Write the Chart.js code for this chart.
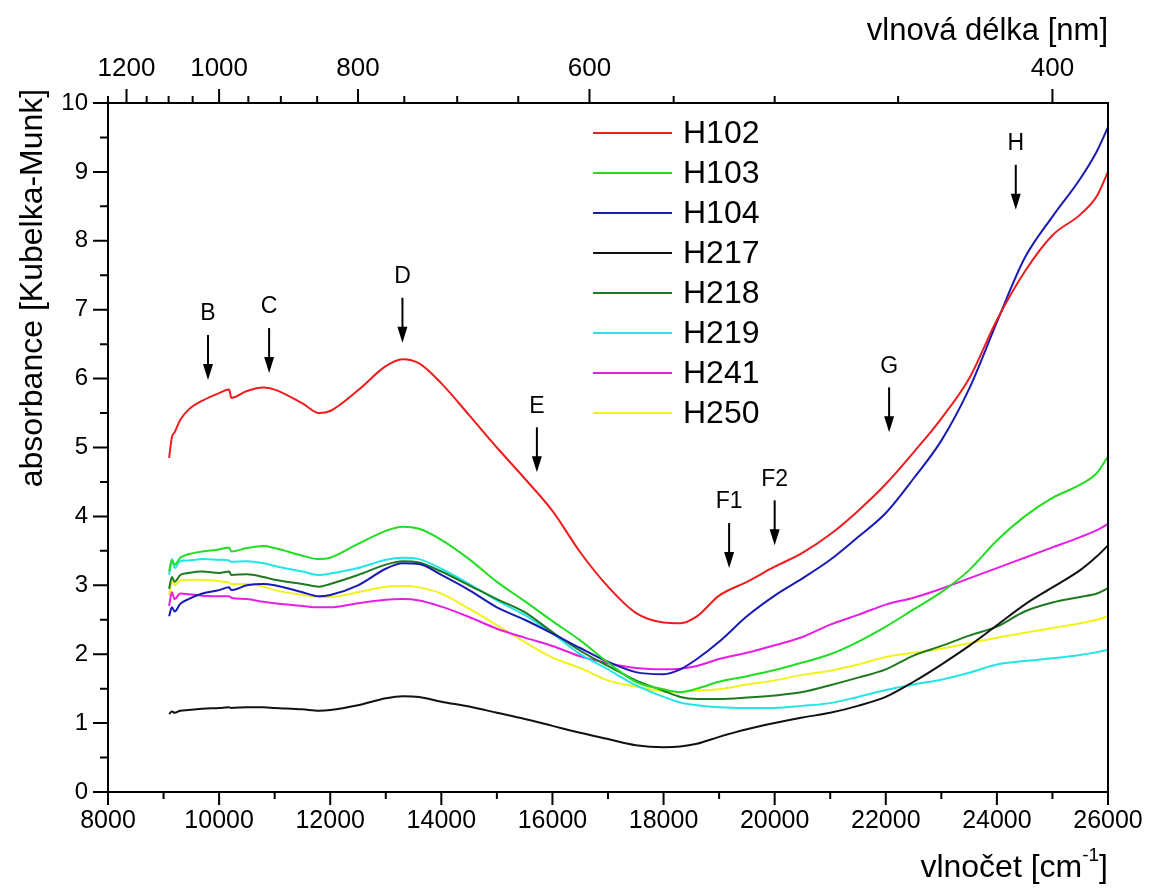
<!DOCTYPE html>
<html>
<head>
<meta charset="utf-8">
<script src="https://cdn.jsdelivr.net/npm/chart.js@4"></script>
<style>
  body { margin: 0; background: #fff; }
  #wrap { width: 1152px; height: 890px; }
</style>
</head>
<body>
<div id="wrap"><canvas id="spectra"></canvas></div>
<script>
// wavenumber grid [cm-1]
var wavenumber = [9100, 9150, 9200, 9300, 9450, 9700, 10000, 10180, 10220, 10500, 10800, 11000, 11500, 11800, 12000, 12500,
    13000, 13300, 13600, 14000, 14500, 15000, 15500, 16000, 16500, 17000, 17500, 18000, 18300, 18600, 19000, 19500,
    20000, 20500, 21000, 21500, 22000, 22500, 23000, 23500, 24000, 24500, 25000, 25500, 25800, 26000];

var h102 = [4.85, 5.15, 5.22, 5.40, 5.55, 5.68, 5.79, 5.84, 5.72, 5.82, 5.87, 5.84, 5.64, 5.50, 5.53, 5.83,
    6.18, 6.28, 6.22, 5.93, 5.47, 5.00, 4.55, 4.08, 3.48, 2.98, 2.60, 2.46, 2.45, 2.55, 2.85, 3.05,
    3.27, 3.47, 3.74, 4.08, 4.47, 4.93, 5.42, 6.00, 6.85, 7.55, 8.08, 8.38, 8.65, 9.00];
var h103 = [3.20, 3.36, 3.30, 3.40, 3.45, 3.49, 3.52, 3.55, 3.49, 3.54, 3.57, 3.54, 3.43, 3.38, 3.40, 3.60,
    3.79, 3.85, 3.82, 3.66, 3.38, 3.05, 2.77, 2.48, 2.20, 1.88, 1.60, 1.49, 1.45, 1.50, 1.60, 1.68,
    1.77, 1.88, 2.00, 2.18, 2.40, 2.65, 2.90, 3.22, 3.65, 4.00, 4.27, 4.46, 4.63, 4.87];
var h104 = [2.55, 2.68, 2.62, 2.73, 2.80, 2.88, 2.93, 2.97, 2.93, 3.00, 3.02, 3.00, 2.90, 2.84, 2.86, 3.00,
    3.24, 3.32, 3.31, 3.15, 2.93, 2.68, 2.50, 2.30, 2.09, 1.89, 1.74, 1.71, 1.78, 1.93, 2.18, 2.55,
    2.85, 3.10, 3.37, 3.70, 4.05, 4.55, 5.10, 5.85, 6.82, 7.75, 8.35, 8.90, 9.30, 9.65];
var h217 = [1.13, 1.17, 1.15, 1.18, 1.19, 1.21, 1.22, 1.23, 1.22, 1.23, 1.23, 1.22, 1.20, 1.18, 1.19, 1.26,
    1.36, 1.39, 1.38, 1.31, 1.24, 1.15, 1.06, 0.96, 0.86, 0.77, 0.68, 0.65, 0.66, 0.70, 0.80, 0.91,
    1.00, 1.08, 1.15, 1.25, 1.38, 1.60, 1.85, 2.12, 2.42, 2.72, 2.97, 3.22, 3.42, 3.58];
var h218 = [2.95, 3.12, 3.05, 3.15, 3.18, 3.20, 3.18, 3.20, 3.15, 3.16, 3.12, 3.08, 3.02, 2.98, 3.02, 3.15,
    3.30, 3.35, 3.33, 3.20, 3.00, 2.80, 2.61, 2.32, 2.05, 1.83, 1.62, 1.47, 1.38, 1.35, 1.35, 1.37,
    1.40, 1.45, 1.55, 1.66, 1.78, 1.98, 2.12, 2.27, 2.40, 2.62, 2.75, 2.83, 2.88, 2.96];
var h219 = [3.15, 3.38, 3.25, 3.35, 3.36, 3.38, 3.37, 3.36, 3.34, 3.35, 3.32, 3.28, 3.20, 3.15, 3.17, 3.25,
    3.37, 3.40, 3.38, 3.24, 3.02, 2.78, 2.57, 2.30, 2.00, 1.78, 1.55, 1.38, 1.30, 1.26, 1.23, 1.22,
    1.22, 1.25, 1.29, 1.38, 1.48, 1.56, 1.63, 1.73, 1.85, 1.90, 1.94, 1.99, 2.03, 2.06];
var h241 = [2.70, 2.90, 2.80, 2.88, 2.87, 2.85, 2.84, 2.84, 2.82, 2.80, 2.76, 2.74, 2.70, 2.68, 2.68, 2.74,
    2.79, 2.80, 2.78, 2.69, 2.54, 2.37, 2.24, 2.12, 1.97, 1.87, 1.80, 1.78, 1.79, 1.83, 1.93, 2.02,
    2.13, 2.25, 2.43, 2.57, 2.72, 2.82, 2.95, 3.10, 3.25, 3.40, 3.55, 3.70, 3.80, 3.89];
var h250 = [2.85, 3.05, 3.00, 3.07, 3.08, 3.08, 3.06, 3.04, 3.02, 3.02, 2.98, 2.93, 2.86, 2.83, 2.83, 2.90,
    2.98, 2.99, 2.97, 2.88, 2.66, 2.42, 2.18, 1.95, 1.80, 1.62, 1.53, 1.46, 1.45, 1.47, 1.49, 1.56,
    1.62, 1.70, 1.76, 1.85, 1.96, 2.02, 2.08, 2.16, 2.24, 2.31, 2.38, 2.45, 2.50, 2.55];

var seriesNames = ["H102", "H103", "H104", "H217", "H218", "H219", "H241", "H250"];
var seriesValues = [h102, h103, h104, h217, h218, h219, h241, h250];
var seriesColors = ["#ee1c1c", "#22dd22", "#1a1ab4", "#111111", "#1f7a1f", "#22e6e6", "#e61ee6", "#f2f21a"];

// axis ticks
var xTicks = [8000, 10000, 12000, 14000, 16000, 18000, 20000, 22000, 24000, 26000];
var topTickNm = [1200, 1000, 800, 600, 400];
var topMinorNm = [1250, 1150, 1100, 1050, 950, 900, 850, 750, 700, 650, 550, 500, 450];

// band markers: label, wavenumber, absorbance at arrow tip
var markerLabels = ["B", "C", "D", "E", "F1", "F2", "G", "H"];
var markerX = [9800, 10900, 13300, 15720, 19180, 20000, 22060, 24340];
var markerY = [5.98, 6.08, 6.52, 4.64, 3.25, 3.58, 5.22, 8.45];

var FONT = "'Liberation Sans', Arial, sans-serif";

var datasets = seriesNames.map(function(name, i) {
    return {
        label: name,
        data: wavenumber.map(function(w, j) { return { x: w, y: seriesValues[i][j] }; }),
        borderColor: seriesColors[i],
        backgroundColor: seriesColors[i],
        borderWidth: 2,
        pointRadius: 0,
        cubicInterpolationMode: 'monotone'
    };
});

// no extra side padding from the horizontal scales
function fixHorizontal(h) {
    return function(s) { s.height = h; s.paddingLeft = 0; s.paddingRight = 0; };
}

// frame, tick marks, titles, legend and arrows
var decorPlugin = {
    id: 'decor',
    afterDraw: function(chart) {
        var ctx = chart.ctx;
        var a = chart.chartArea;
        var xs = chart.scales.x, ys = chart.scales.y;
        ctx.save();
        ctx.strokeStyle = '#000';
        ctx.fillStyle = '#000';
        ctx.lineWidth = 2;
        ctx.strokeRect(a.left, a.top, a.right - a.left, a.bottom - a.top);

        ctx.beginPath();
        for (var v = 8000; v <= 26000; v += 1000) {
            var px = xs.getPixelForValue(v);
            var len = v % 2000 === 0 ? 13 : 7;
            ctx.moveTo(px, a.bottom); ctx.lineTo(px, a.bottom + len);
        }
        topTickNm.concat(topMinorNm).forEach(function(nm) {
            var px = xs.getPixelForValue(1e7 / nm);
            var len = topTickNm.indexOf(nm) >= 0 ? 14 : 7;
            ctx.moveTo(px, a.top); ctx.lineTo(px, a.top - len);
        });
        for (var k = 0; k <= 20; k++) {
            var py = ys.getPixelForValue(k / 2);
            var l = k % 2 === 0 ? 15 : 8;
            ctx.moveTo(a.left, py); ctx.lineTo(a.left - l, py);
        }
        ctx.stroke();

        // axis titles
        ctx.textBaseline = 'middle';
        ctx.font = '31px ' + FONT;
        ctx.textAlign = 'right';
        ctx.fillText('vlnová délka [nm]', a.right, 31);

        ctx.textAlign = 'left';
        var t1 = 'vlnočet [cm', sup = '-1', t2 = ']';
        ctx.font = '32px ' + FONT;
        var w1 = ctx.measureText(t1).width, w3 = ctx.measureText(t2).width;
        ctx.font = '19px ' + FONT;
        var w2 = ctx.measureText(sup).width;
        var x0 = a.right - (w1 + w2 + w3);
        ctx.font = '32px ' + FONT;
        ctx.fillText(t1, x0, 868);
        ctx.fillText(t2, x0 + w1 + w2, 868);
        ctx.font = '19px ' + FONT;
        ctx.fillText(sup, x0 + w1, 856);

        ctx.save();
        ctx.translate(33, 288);
        ctx.rotate(-Math.PI / 2);
        ctx.textAlign = 'center';
        ctx.font = '32px ' + FONT;
        ctx.fillText('absorbance [Kubelka-Munk]', 0, 0);
        ctx.restore();

        // legend
        ctx.font = '32px ' + FONT;
        ctx.textAlign = 'left';
        seriesNames.forEach(function(name, i) {
            var ly = 133 + i * 40;
            ctx.strokeStyle = seriesColors[i];
            ctx.lineWidth = 2;
            ctx.beginPath();
            ctx.moveTo(593, ly); ctx.lineTo(672, ly);
            ctx.stroke();
            ctx.fillStyle = '#000';
            ctx.fillText(name, 683, ly + 1);
        });

        // band arrows
        ctx.strokeStyle = '#000';
        ctx.fillStyle = '#000';
        ctx.lineWidth = 2;
        ctx.font = '23px ' + FONT;
        ctx.textAlign = 'center';
        markerLabels.forEach(function(lab, i) {
            var px = xs.getPixelForValue(markerX[i]);
            var tip = ys.getPixelForValue(markerY[i]);
            ctx.beginPath();
            ctx.moveTo(px, tip - 45); ctx.lineTo(px, tip - 12);
            ctx.stroke();
            ctx.beginPath();
            ctx.moveTo(px - 5, tip - 16); ctx.lineTo(px + 5, tip - 16); ctx.lineTo(px, tip);
            ctx.closePath();
            ctx.fill();
            ctx.fillText(lab, px, tip - 66);
        });
        ctx.restore();
    }
};

var ctx = document.getElementById('spectra').getContext('2d');
var chart = new Chart(ctx, {
    type: 'line',
    data: { datasets: datasets },
    options: {
        responsive: true,
        maintainAspectRatio: false,
        animation: false,
        layout: { padding: { left: 0, right: 44, top: 0, bottom: 0 } },
        plugins: { legend: { display: false }, tooltip: { enabled: false } },
        scales: {
            x: {
                type: 'linear', position: 'bottom', min: 8000, max: 26000,
                grid: { display: false, drawTicks: false },
                border: { display: false },
                afterBuildTicks: function(s) { s.ticks = xTicks.map(function(v) { return { value: v }; }); },
                ticks: {
                    color: '#000', font: { family: FONT, size: 25 }, padding: 14, maxRotation: 0,
                    callback: function(v) { return String(v); }
                },
                afterFit: fixHorizontal(98)
            },
            x2: {
                type: 'linear', position: 'top', min: 8000, max: 26000,
                grid: { display: false, drawTicks: false },
                border: { display: false },
                afterBuildTicks: function(s) { s.ticks = topTickNm.map(function(nm) { return { value: 1e7 / nm }; }); },
                ticks: {
                    color: '#000', font: { family: FONT, size: 26 }, padding: 19, maxRotation: 0,
                    callback: function(v) { return String(Math.round(1e7 / v)); }
                },
                afterFit: fixHorizontal(103)
            },
            y: {
                type: 'linear', position: 'left', min: 0, max: 10,
                grid: { display: false, drawTicks: false },
                border: { display: false },
                ticks: { color: '#000', font: { family: FONT, size: 24 }, padding: 20, stepSize: 1 },
                afterFit: function(s) { s.width = 108; s.paddingTop = 0; s.paddingBottom = 0; }
            }
        }
    },
    plugins: [decorPlugin]
});
</script>
</body>
</html>
